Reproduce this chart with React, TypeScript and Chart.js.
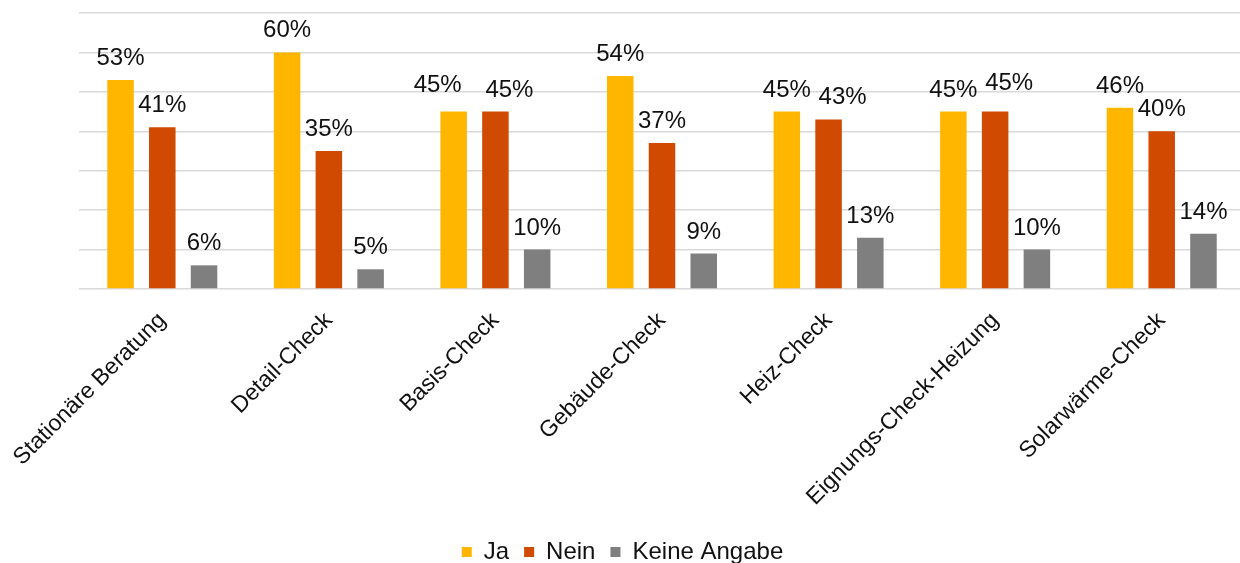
import React, { useEffect, useRef } from "react";
import { Chart, registerables } from "chart.js";

Chart.register(...registerables);

const categories = [
  "Stationäre Beratung",
  "Detail-Check",
  "Basis-Check",
  "Gebäude-Check",
  "Heiz-Check",
  "Eignungs-Check-Heizung",
  "Solarwärme-Check",
];
const seriesNames = ["Ja", "Nein", "Keine Angabe"];
const jaValues = [53, 60, 45, 54, 45, 45, 46];
const neinValues = [41, 35, 45, 37, 43, 45, 40];
const keineAngabeValues = [6, 5, 10, 9, 13, 10, 14];
const yMin = 0;
const yMax = 70;
const yStep = 10;

const seriesColors = ["#FFB600", "#D04A02", "#7F7F7F"];
const FONT = "'Liberation Sans', Arial, sans-serif";
const TEXT = "#111111";

// small label nudges (dataset-index -> [dx, dy]) to mimic the original's collision avoidance
const labelNudges: Record<string, [number, number]> = {
  "0-2": [-16, -5],
  "1-2": [14, 0],
  "1-4": [14, 0],
  "1-5": [14, -7],
};

const valueLabelPlugin = {
  id: "valueLabels",
  afterDatasetsDraw(chart: any) {
    const ctx = chart.ctx;
    ctx.save();
    ctx.font = `24px ${FONT}`;
    ctx.fillStyle = TEXT;
    ctx.textAlign = "center";
    ctx.textBaseline = "alphabetic";
    chart.data.datasets.forEach((ds: any, di: number) => {
      const meta = chart.getDatasetMeta(di);
      meta.data.forEach((bar: any, i: number) => {
        const n = labelNudges[`${di}-${i}`] || [0, 0];
        ctx.fillText(`${ds.data[i]}%`, bar.x + n[0], bar.y - 15 + n[1]);
      });
    });
    ctx.restore();
  },
};

export default function App() {
  const canvasRef = useRef<HTMLCanvasElement | null>(null);

  useEffect(() => {
    if (!canvasRef.current) return;
    const chart = new Chart(canvasRef.current, {
      type: "bar",
      data: {
        labels: categories,
        datasets: [jaValues, neinValues, keineAngabeValues].map((vals, k) => ({
          label: seriesNames[k],
          data: vals,
          backgroundColor: seriesColors[k],
          borderWidth: 0,
          categoryPercentage: 0.752,
          barPercentage: 0.635,
        })),
      },
      options: {
        responsive: false,
        animation: false,
        devicePixelRatio: 1,
        layout: { padding: { left: 0, right: 10, top: 13, bottom: 0 } },
        scales: {
          x: {
            grid: { display: false },
            border: { display: false },
            ticks: {
              autoSkip: false,
              minRotation: 45,
              maxRotation: 45,
              padding: 10,
              color: TEXT,
              font: { family: FONT, size: 23 },
            },
            afterFit: (scale: any) => {
              scale.height = 236;
            },
          },
          y: {
            min: yMin,
            max: yMax,
            ticks: { display: false, stepSize: yStep },
            grid: { color: "#D9D9D9", lineWidth: 1.5, drawTicks: false },
            border: { display: false },
            afterFit: (scale: any) => {
              scale.width = 79;
            },
          },
        },
        plugins: {
          legend: {
            position: "bottom",
            labels: {
              boxWidth: 10,
              boxHeight: 10,
              padding: 15,
              color: TEXT,
              font: { family: FONT, size: 24 },
            },
          },
          tooltip: { enabled: false },
        },
      },
      plugins: [valueLabelPlugin],
    });
    return () => chart.destroy();
  }, []);

  return (
    <div
      style={{
        position: "absolute",
        left: 0,
        top: 0,
        width: 1240,
        height: 563,
        overflow: "hidden",
        background: "#ffffff",
      }}
    >
      <canvas ref={canvasRef} width={1255} height={574} />
    </div>
  );
}
